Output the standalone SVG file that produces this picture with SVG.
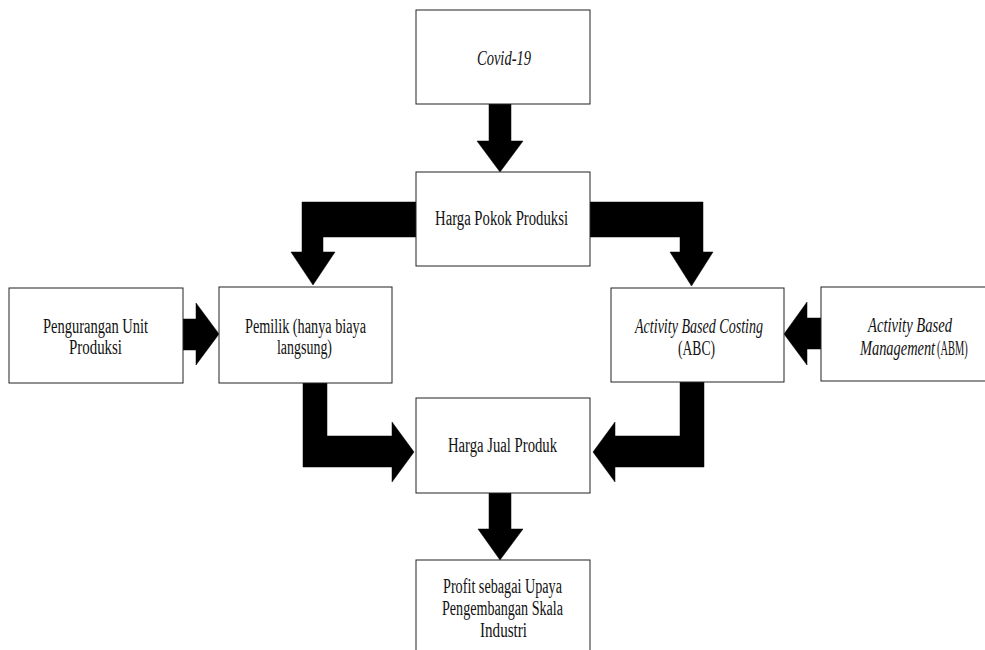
<svg xmlns="http://www.w3.org/2000/svg" width="985" height="650" viewBox="0 0 985 650">
<style>
  .box { fill: #ffffff; stroke: #222222; stroke-width: 1; }
  .arrow { fill: #000000; stroke: #000000; stroke-width: 0.5; }
  text { font-family: "Liberation Serif", serif; font-size: 20px; fill: #111111; }
  .it { font-style: italic; }
</style>
<rect width="985" height="650" fill="#ffffff"/>

<g id="connectors">
  <polygon class="arrow" points="489,104 511,104 511,141 523,141 500,172 477,141 489,141"/>
  <polygon class="arrow" points="416,202 302,202 302,252 291,252 313,285 335,252 323,252 323,237 416,237"/>
  <polygon class="arrow" points="590,202 703,202 703,252 713,252 691.5,286 670,252 680,252 680,237 590,237"/>
  <polygon class="arrow" points="183,319 196,319 196,303 219,334 196,365 196,350 183,350"/>
  <polygon class="arrow" points="821,318 807,318 807,302 784,334 807,365 807,349 821,349"/>
  <polygon class="arrow" points="303,383 327,383 327,436 392,436 392,422 414,452 392,482 392,467 303,467"/>
  <polygon class="arrow" points="704,382 680,382 680,436 615,436 615,422 593,452 615,482 615,467 704,467"/>
  <polygon class="arrow" points="489,493 511,493 511,529 523,529 500,560 478,529 489,529"/>
</g>

<g id="covid">
  <rect class="box" x="416" y="10" width="174" height="94"/>
  <text class="it" x="504" y="65" text-anchor="middle" textLength="54" lengthAdjust="spacingAndGlyphs">Covid-19</text>
</g>

<g id="hpp">
  <rect class="box" x="416" y="172" width="174" height="94"/>
  <text x="501.5" y="225" text-anchor="middle" textLength="133" lengthAdjust="spacingAndGlyphs">Harga Pokok Produksi</text>
</g>

<g id="pengurangan">
  <rect class="box" x="9" y="288" width="174" height="95"/>
  <text x="95.5" y="333" text-anchor="middle" textLength="105" lengthAdjust="spacingAndGlyphs">Pengurangan Unit</text>
  <text x="95.5" y="354" text-anchor="middle" textLength="53" lengthAdjust="spacingAndGlyphs">Produksi</text>
</g>

<g id="pemilik">
  <rect class="box" x="219" y="287" width="173" height="96"/>
  <text x="305.5" y="333" text-anchor="middle" textLength="121" lengthAdjust="spacingAndGlyphs">Pemilik (hanya biaya</text>
  <text x="304.5" y="354" text-anchor="middle" textLength="55" lengthAdjust="spacingAndGlyphs">langsung)</text>
</g>

<g id="abc">
  <rect class="box" x="611" y="288" width="173" height="94"/>
  <text class="it" x="699" y="333" text-anchor="middle" textLength="128" lengthAdjust="spacingAndGlyphs">Activity Based Costing</text>
  <text x="696.5" y="355" text-anchor="middle" textLength="37" lengthAdjust="spacingAndGlyphs">(ABC)</text>
</g>

<g id="abm">
  <rect class="box" x="821" y="287" width="174" height="94"/>
  <text class="it" x="910" y="332" text-anchor="middle" textLength="84" lengthAdjust="spacingAndGlyphs">Activity Based</text>
  <text class="it" transform="translate(860,355) scale(0.72,1)">Management</text>
  <text transform="translate(937,355) scale(0.52,1)">(ABM)</text>
</g>

<g id="hjp">
  <rect class="box" x="416" y="398" width="174" height="95"/>
  <text x="502.5" y="452" text-anchor="middle" textLength="109" lengthAdjust="spacingAndGlyphs">Harga Jual Produk</text>
</g>

<g id="profit">
  <rect class="box" x="416" y="560" width="174" height="100"/>
  <text x="502.5" y="593" text-anchor="middle" textLength="119" lengthAdjust="spacingAndGlyphs">Profit sebagai Upaya</text>
  <text x="502.5" y="615" text-anchor="middle" textLength="121" lengthAdjust="spacingAndGlyphs">Pengembangan Skala</text>
  <text x="503.5" y="637" text-anchor="middle" textLength="47" lengthAdjust="spacingAndGlyphs">Industri</text>
</g>
</svg>
